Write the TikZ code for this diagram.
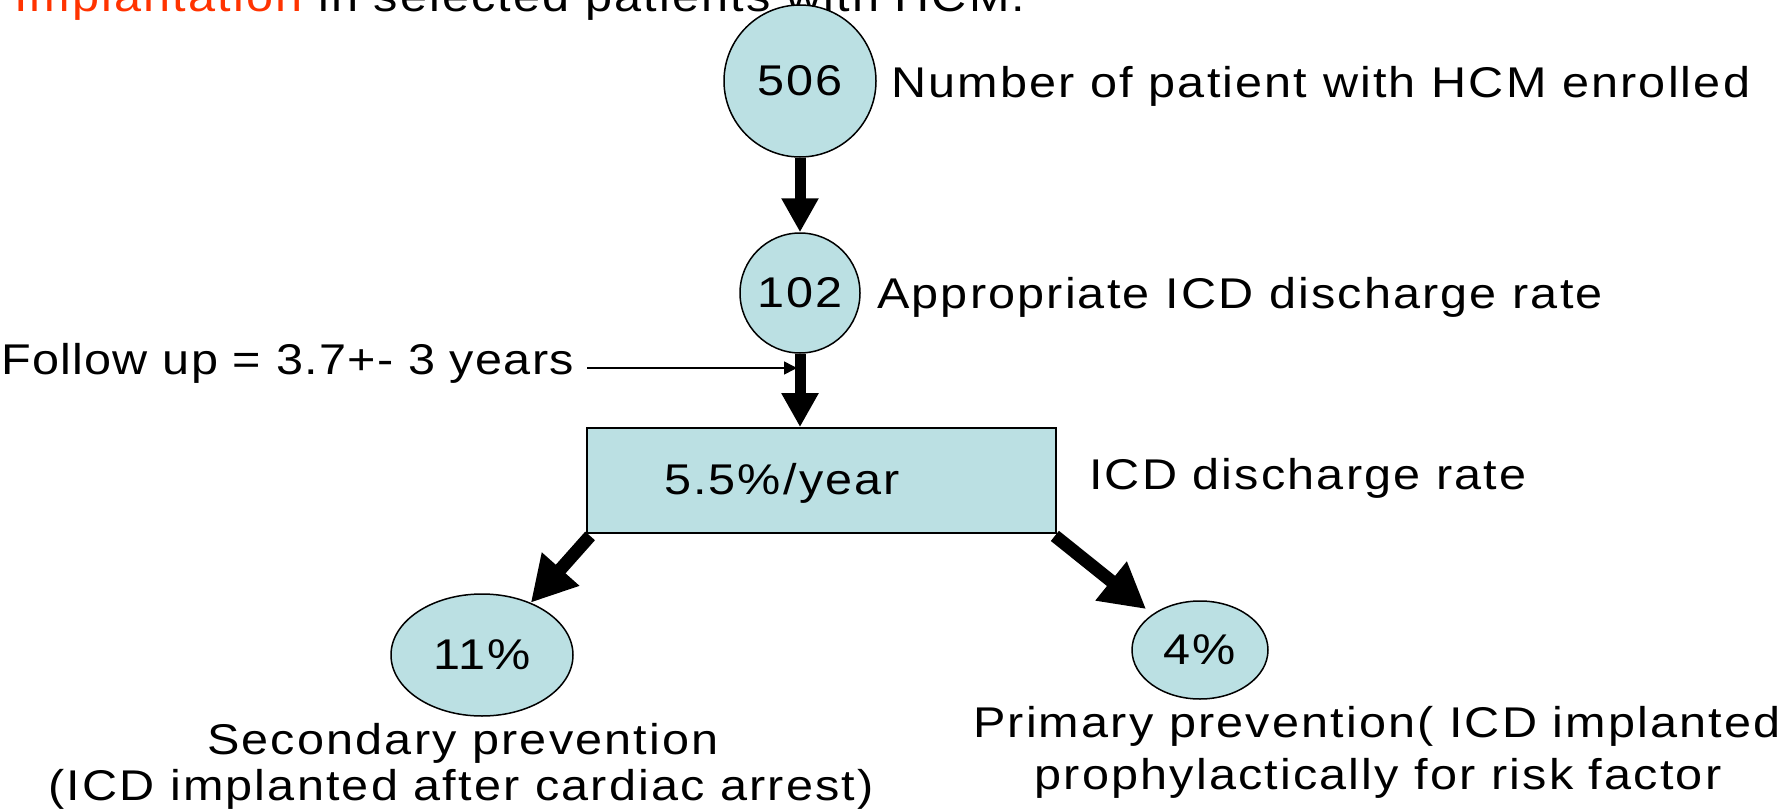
\documentclass[tikz,border=0pt]{standalone}
\usepackage{fontspec}
\setmainfont{Liberation Sans}[FakeStretch=1.13, LetterSpace=5]
\usetikzlibrary{arrows.meta,shapes.geometric}
\definecolor{nodefill}{RGB}{187,224,227}
\definecolor{hired}{RGB}{255,51,0}
\begin{document}
\begin{tikzpicture}[x=1pt,y=-1pt,
  every node/.style={font=\fontsize{43}{52}\selectfont, inner sep=0pt},
  bubble/.style={circle, draw=black, line width=1.5pt, fill=nodefill},
  oval/.style={ellipse, draw=black, line width=1.5pt, fill=nodefill},
  box/.style={rectangle, draw=black, line width=1.8pt, fill=nodefill},
  bigarrow/.style={line width=11pt, -{Triangle[length=34pt,width=35pt]}},
  diagarrow/.style={line width=13pt, -{Triangle[length=45pt,width=47pt]}},
  thinarrow/.style={line width=1.5pt, -{Triangle[length=13pt,width=13pt]}},
  lbl/.style={anchor=base west},
  clbl/.style={anchor=base},
]
\useasboundingbox (0,0) rectangle (1792,811);
\fill[white] (0,0) rectangle (1792,811);

\node[lbl] (title) at (14,11) {\textcolor{hired}{Implantation} in selected patients with HCM.};

\node[bubble, minimum size=152pt] (c506) at (800,81) {506};
\node[bubble, minimum size=120pt] (c102) at (800,293) {102};
\node[box, minimum width=469pt, minimum height=105pt] (rate) at (821.5,480.5) {};
\node[anchor=base] (ratetxt) at (782,494) {5.5\%/year};
\node[oval, minimum width=182pt, minimum height=122pt] (e11) at (482,655) {11\%};
\node[oval, minimum width=136pt, minimum height=98pt] (e4) at (1200,650) {4\%};

\node[lbl] (t506) at (891,97) {Number of patient with HCM enrolled};
\node[lbl] (t102) at (877,308) {Appropriate ICD discharge rate};
\node[lbl] (tfu) at (1,374) {\addfontfeature{LetterSpace=3}Follow up = 3.7+- 3 years};
\node[lbl] (trate) at (1089,489) {ICD discharge rate};
\node[clbl] (tsec) at (463,754) {Secondary prevention};
\node[clbl] (tsec2) at (461,800) {(ICD implanted after cardiac arrest)};
\node[clbl] (tpri) at (1377,737) {Primary prevention( ICD implanted};
\node[clbl] (tpri2) at (1378,789) {prophylactically for risk factor};

\draw[bigarrow] (c506.south) -- (c102.north);
\draw[bigarrow] (c102.south) -- (c102.south |- rate.north);
\draw[diagarrow] ([shift={(4,2)}]rate.south west) -- (e11.47);
\draw[diagarrow, shorten >=8pt] ([shift={(-2,2)}]rate.south east) -- (e4.143);

\coordinate (fs) at (587,368);
\draw[thinarrow, shorten >=3pt] (fs) -- (fs -| c102.south);
\end{tikzpicture}
\end{document}
